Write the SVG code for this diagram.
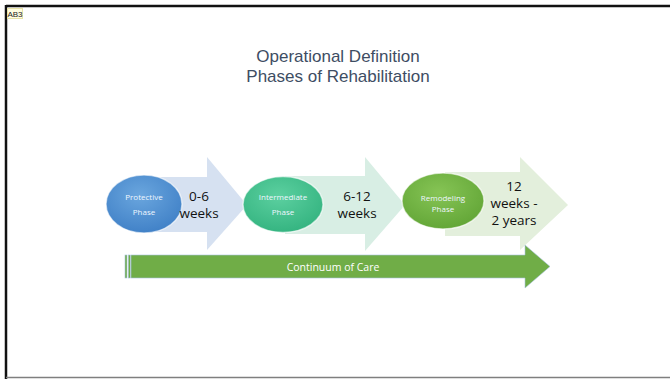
<svg xmlns="http://www.w3.org/2000/svg" width="670" height="379" viewBox="0 0 670 379">
  <defs>
    <radialGradient id="gBlue" cx="0.45" cy="0.35" r="0.75">
      <stop offset="0" stop-color="#6aa6de"/>
      <stop offset="1" stop-color="#3b7cc4"/>
    </radialGradient>
    <radialGradient id="gTeal" cx="0.45" cy="0.35" r="0.75">
      <stop offset="0" stop-color="#5cd0a0"/>
      <stop offset="1" stop-color="#2fb07c"/>
    </radialGradient>
    <radialGradient id="gGreen" cx="0.45" cy="0.35" r="0.75">
      <stop offset="0" stop-color="#86c455"/>
      <stop offset="1" stop-color="#5ea233"/>
    </radialGradient>
  </defs>
  <style>
    .title { font-family: "Liberation Sans", Arial, sans-serif; font-size: 17px; fill: #3e4d63; text-anchor: middle; }
    .phase { font-family: "Open Sans", "Liberation Sans", sans-serif; font-size: 8px; fill: #eef6ff; text-anchor: middle; }
    .dur { font-family: "Open Sans", "Liberation Sans", sans-serif; font-size: 13.5px; fill: #111; text-anchor: middle; }
    .care { font-family: "Open Sans", "Liberation Sans", sans-serif; font-size: 10.5px; fill: #ffffff; text-anchor: middle; }
    .oval { stroke: #ffffff; stroke-opacity: 0.6; stroke-width: 1.5; }
  </style>

  <!-- page -->
  <rect x="0" y="0" width="670" height="379" fill="#ffffff"/>
  <line x1="6" y1="6" x2="670" y2="6" stroke="#111" stroke-width="2.5"/>
  <line x1="6" y1="5" x2="6" y2="379" stroke="#111" stroke-width="2.5"/>
  <line x1="6" y1="377.5" x2="670" y2="377.5" stroke="#7f7f7f" stroke-width="1.5"/>

  <!-- slide tag -->
  <g id="tag">
    <rect x="7.5" y="8.5" width="15" height="10" fill="#fffde0" stroke="#e8e3a8" stroke-width="1"/>
    <text x="15" y="16.5" font-family="Liberation Sans, sans-serif" font-size="8" fill="#222" text-anchor="middle">AB3</text>
  </g>

  <!-- title -->
  <g id="title">
    <text class="title" x="338" y="61.5">Operational Definition</text>
    <text class="title" x="338" y="82">Phases of Rehabilitation</text>
  </g>

  <!-- phase arrows -->
  <g id="connectors">
    <path d="M140,177 H207 V157 L247,205 L207,250 V232 H140 Z" fill="#d6e1f1"/>
    <path d="M285,176 H365 V157 L405,205 L365,251 V234 H285 Z" fill="#d8eee4"/>
    <path d="M445,172 H520 V157 L568,205 L520,250 V236 H445 Z" fill="#e3efdc"/>
  </g>

  <g id="protective">
    <ellipse class="oval" cx="144" cy="204" rx="38" ry="29" fill="url(#gBlue)"/>
    <text class="phase" x="144" y="200">Protective</text>
    <text class="phase" x="144" y="215">Phase</text>
    <text class="dur" x="199" y="201">0-6</text>
    <text class="dur" x="199" y="218">weeks</text>
  </g>

  <g id="intermediate">
    <ellipse class="oval" cx="283" cy="204.5" rx="40" ry="28" fill="url(#gTeal)"/>
    <text class="phase" x="283" y="200">Intermediate</text>
    <text class="phase" x="283" y="215">Phase</text>
    <text class="dur" x="357" y="201">6-12</text>
    <text class="dur" x="357" y="218">weeks</text>
  </g>

  <g id="remodeling">
    <ellipse class="oval" cx="443" cy="201" rx="41" ry="28" fill="url(#gGreen)"/>
    <text class="phase" x="443" y="201">Remodeling</text>
    <text class="phase" x="443" y="212">Phase</text>
    <text class="dur" x="514" y="191">12</text>
    <text class="dur" x="514" y="208">weeks -</text>
    <text class="dur" x="514" y="225">2 years</text>
  </g>

  <!-- continuum arrow -->
  <g id="continuum">
    <path d="M131,255 H525 V245 L550,266.5 L525,288 V278 H131 Z" fill="#70ad47" stroke="#a9c4e0" stroke-width="0.6"/>
    <rect x="125" y="255" width="2" height="23" fill="#70ad47" stroke="#a9c4e0" stroke-width="0.6"/>
    <rect x="128.3" y="255" width="2" height="23" fill="#70ad47" stroke="#a9c4e0" stroke-width="0.6"/>
    <text class="care" x="333" y="270.5">Continuum of Care</text>
  </g>
</svg>
